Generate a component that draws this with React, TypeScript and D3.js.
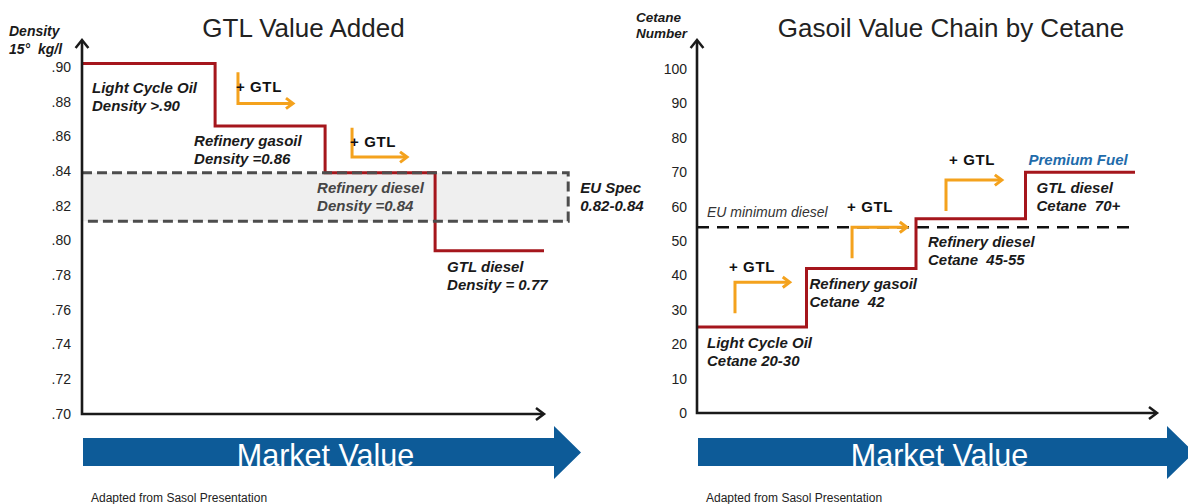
import React from "react";
import * as d3 from "d3";

// ---------- Left panel: density steps ----------
const densityStages = ["Light Cycle Oil", "Refinery gasoil", "Refinery diesel", "GTL diesel"];
const densityNotes = ["Density >.90", "Density =0.86", "Density =0.84", "Density = 0.77"];
const densityStageStart = [0, 1.21, 2.21, 3.21];
const densityStageEnd = 4.2;
const densityLevel = [0.902, 0.866, 0.839, 0.794];
const euSpecRange = [0.811, 0.839];
const euSpecRight = 4.42;
const densityTicks = [0.7, 0.72, 0.74, 0.76, 0.78, 0.8, 0.82, 0.84, 0.86, 0.88, 0.9];
// "+ GTL" upgrade arrows: x position, start level, corner level, arrow length
const densityGtl = [
  { x: 1.418, from: 0.897, to: 0.879, len: 0.5 },
  { x: 2.455, from: 0.865, to: 0.848, len: 0.5 },
];

// ---------- Right panel: cetane steps ----------
const cetaneStages = ["Light Cycle Oil", "Refinery gasoil", "Refinery diesel", "GTL diesel"];
const cetaneNotes = ["Cetane 20-30", "Cetane  42", "Cetane  45-55", "Cetane  70+"];
const cetaneStageStart = [0, 1, 2, 3];
const cetaneStageEnd = 4;
const cetaneLevel = [25, 42, 56.5, 70];
const euMinimumCetane = 54;
const cetaneTicks = [0, 10, 20, 30, 40, 50, 60, 70, 80, 90, 100];
const cetaneGtl = [
  { x: 0.347, from: 29, to: 38, len: 0.5 },
  { x: 1.416, from: 45, to: 54, len: 0.5 },
  { x: 2.274, from: 58.7, to: 67.7, len: 0.51 },
];

const FONT = "'Liberation Sans', Arial, Helvetica, sans-serif";
const RED = "#a5161c";
const ORANGE = "#f4a21d";
const BLUE = "#0d5b98";
const INK = "#1a1a1a";

function Chevron({ x, y, dir, size = 8, color = INK, width = 2.5 }) {
  // open arrowhead with its tip at (x, y)
  let pts;
  if (dir === "up") pts = [[x - size * 0.8, y + size], [x, y], [x + size * 0.8, y + size]];
  else pts = [[x - size, y - size * 0.75], [x, y], [x - size, y + size * 0.75]];
  return (
    <polyline
      points={pts.map((p) => p.join(",")).join(" ")}
      fill="none"
      stroke={color}
      strokeWidth={width}
      strokeLinejoin="miter"
      strokeLinecap="butt"
    />
  );
}

function MarketArrow({ x0, bodyEnd, tip }) {
  const top = 438, bottom = 466, headTop = 426, headBottom = 479, mid = 452.5;
  const d = `M${x0},${top}H${bodyEnd}V${headTop}L${tip},${mid}L${bodyEnd},${headBottom}V${bottom}H${x0}Z`;
  return (
    <g>
      <path d={d} fill={BLUE} />
      <text
        x={(x0 + bodyEnd) / 2 + 7}
        y={466}
        textAnchor="middle"
        fontFamily={FONT}
        fontSize={30.5}
        fill="#ffffff"
      >
        Market Value
      </text>
    </g>
  );
}

function StageLabel({ x, y, line1, line2, color = INK }) {
  return (
    <text
      fontFamily={FONT}
      fontSize={15}
      fontWeight="bold"
      fontStyle="italic"
      fill={color}
      style={{ whiteSpace: "pre" }}
    >
      <tspan x={x} y={y}>{line1}</tspan>
      <tspan x={x} y={y + 18}>{line2}</tspan>
    </text>
  );
}

function GtlArrow({ x, yFrom, yTo, xTip, labelX, labelY }) {
  return (
    <g>
      <path
        d={`M${x},${yFrom}V${yTo}H${xTip - 1}`}
        fill="none"
        stroke={ORANGE}
        strokeWidth={3}
      />
      <Chevron x={xTip} y={yTo} dir="right" size={7} color={ORANGE} width={3} />
      <text
        x={labelX}
        y={labelY}
        fontFamily={FONT}
        fontSize={15}
        fontWeight="bold"
        fill="#111"
        letterSpacing={0.6}
        style={{ whiteSpace: "pre" }}
      >
        + GTL
      </text>
    </g>
  );
}

function DensityPanel() {
  const axisX = 82;
  const x = d3.scaleLinear().domain([0, densityStageEnd]).range([axisX, 544]);
  const y = d3.scaleLinear().domain([0.7, 0.9]).range([413.5, 67]);
  const fmt = (v) => d3.format(".2f")(v).replace(/^0/, "");

  const stepPts = densityStageStart.map((s, i) => [x(s), y(densityLevel[i])]);
  stepPts.push([x(densityStageEnd), y(densityLevel[densityLevel.length - 1])]);
  const step = d3.line().curve(d3.curveStepAfter)(stepPts);

  const labelOffsets = [
    [10, 29],
    [-21, 20],
    [-8, 20],
    [12, 21],
  ];
  const gtlLabelOffsets = [
    [-2, 20],
    [-2, 19],
  ];

  const boxTop = y(euSpecRange[1]);
  const boxBottom = y(euSpecRange[0]);
  const boxRight = x(euSpecRight);

  return (
    <g>
      <text x={303.5} y={37} textAnchor="middle" fontFamily={FONT} fontSize={26} fill="#222">
        GTL Value Added
      </text>
      <text fontFamily={FONT} fontSize={14} fontWeight="bold" fontStyle="italic" fill={INK} style={{ whiteSpace: "pre" }}>
        <tspan x={9} y={36}>Density</tspan>
        <tspan x={9} y={54}>15°  kg/l</tspan>
      </text>

      {densityTicks.map((t) => (
        <text key={t} x={axisX - 11} y={y(t) + 5} textAnchor="end" fontFamily={FONT} fontSize={14} fill="#222">
          {fmt(t)}
        </text>
      ))}

      {/* EU spec band fill */}
      <rect x={axisX} y={boxTop} width={boxRight - axisX} height={boxBottom - boxTop} fill="#efefef" />

      <path d={step} fill="none" stroke={RED} strokeWidth={3} />

      {/* EU spec band outline */}
      <path
        d={`M${axisX},${boxTop}H${boxRight}V${boxBottom}H${axisX}`}
        fill="none"
        stroke="#4d4d4d"
        strokeWidth={3}
        strokeDasharray="10 5"
      />
      <StageLabel x={boxRight + 12} y={boxTop + 20} line1="EU Spec" line2="0.82-0.84" />

      {densityStages.map((name, i) => (
        <StageLabel
          key={name}
          x={x(densityStageStart[i]) + labelOffsets[i][0]}
          y={y(densityLevel[i]) + labelOffsets[i][1]}
          line1={name}
          line2={densityNotes[i]}
          color={i === 2 ? "#454545" : INK}
        />
      ))}

      {densityGtl.map((a, i) => (
        <GtlArrow
          key={i}
          x={x(a.x)}
          yFrom={y(a.from)}
          yTo={y(a.to)}
          xTip={x(a.x + a.len)}
          labelX={x(a.x) + gtlLabelOffsets[i][0]}
          labelY={y(a.from) + gtlLabelOffsets[i][1]}
        />
      ))}

      {/* axes */}
      <path d={`M${axisX},${41}V${414}H${543}`} fill="none" stroke={INK} strokeWidth={2.6} />
      <Chevron x={axisX} y={40} dir="up" size={8} />
      <Chevron x={544} y={414} dir="right" size={8} />

      <MarketArrow x0={83} bodyEnd={554} tip={581} />
      <text x={91} y={502} fontFamily={FONT} fontSize={12} fill="#222">
        Adapted from Sasol Presentation
      </text>
    </g>
  );
}

function CetanePanel() {
  const axisX = 697;
  const x = d3.scaleLinear().domain([0, cetaneStageEnd]).range([axisX, 1135]);
  const y = d3.scaleLinear().domain([0, 100]).range([413, 69]);

  const stepPts = cetaneStageStart.map((s, i) => [x(s), y(cetaneLevel[i])]);
  stepPts.push([x(cetaneStageEnd), y(cetaneLevel[cetaneLevel.length - 1])]);
  const step = d3.line().curve(d3.curveStepAfter)(stepPts);

  const labelOffsets = [
    [10, 21],
    [3, 20],
    [12, 28],
    [11, 21],
  ];
  const gtlLabelOffsets = [
    [-6, -10],
    [-5, -15],
    [3, -15],
  ];
  const euY = y(euMinimumCetane);

  return (
    <g>
      <text x={951} y={37} textAnchor="middle" fontFamily={FONT} fontSize={26} fill="#222">
        Gasoil Value Chain by Cetane
      </text>
      <text fontFamily={FONT} fontSize={13.5} fontWeight="bold" fontStyle="italic" fill={INK}>
        <tspan x={636} y={22}>Cetane</tspan>
        <tspan x={636} y={38}>Number</tspan>
      </text>

      {cetaneTicks.map((t) => (
        <text key={t} x={axisX - 10} y={y(t) + 5} textAnchor="end" fontFamily={FONT} fontSize={14} fill="#222">
          {t}
        </text>
      ))}

      {/* EU minimum diesel cetane */}
      <line x1={axisX} x2={x(cetaneStageEnd)} y1={euY} y2={euY} stroke="#111" strokeWidth={2.5} strokeDasharray="12 8" />
      <text x={axisX + 10} y={euY - 10} fontFamily={FONT} fontSize={14} fontStyle="italic" fill="#333">
        EU minimum diesel
      </text>

      <path d={step} fill="none" stroke={RED} strokeWidth={3} />

      {cetaneStages.map((name, i) => (
        <StageLabel
          key={name}
          x={x(cetaneStageStart[i]) + labelOffsets[i][0]}
          y={y(cetaneLevel[i]) + labelOffsets[i][1]}
          line1={name}
          line2={cetaneNotes[i]}
        />
      ))}

      <text
        x={x(cetaneStageStart[3]) + 3}
        y={y(cetaneLevel[3]) - 7}
        fontFamily={FONT}
        fontSize={15}
        fontWeight="bold"
        fontStyle="italic"
        fill="#1f6cab"
      >
        Premium Fuel
      </text>

      {cetaneGtl.map((a, i) => (
        <GtlArrow
          key={i}
          x={x(a.x)}
          yFrom={y(a.from)}
          yTo={y(a.to)}
          xTip={x(a.x + a.len)}
          labelX={x(a.x) + gtlLabelOffsets[i][0]}
          labelY={y(a.to) + gtlLabelOffsets[i][1]}
        />
      ))}

      {/* axes */}
      <path d={`M${axisX},${41}V${413}H${1156}`} fill="none" stroke={INK} strokeWidth={2.6} />
      <Chevron x={axisX} y={40} dir="up" size={8} />
      <Chevron x={1157} y={413} dir="right" size={8} />

      <MarketArrow x0={698} bodyEnd={1167} tip={1194} />
      <text x={706} y={502} fontFamily={FONT} fontSize={12} fill="#222">
        Adapted from Sasol Presentation
      </text>
    </g>
  );
}

export default function App() {
  return (
    <div style={{ position: "absolute", left: 0, top: 0, width: 1188, height: 504, background: "#fff" }}>
      <svg width={1188} height={504} viewBox="0 0 1188 504" style={{ display: "block" }}>
        <rect width={1188} height={504} fill="#ffffff" />
        <DensityPanel />
        <CetanePanel />
      </svg>
    </div>
  );
}
